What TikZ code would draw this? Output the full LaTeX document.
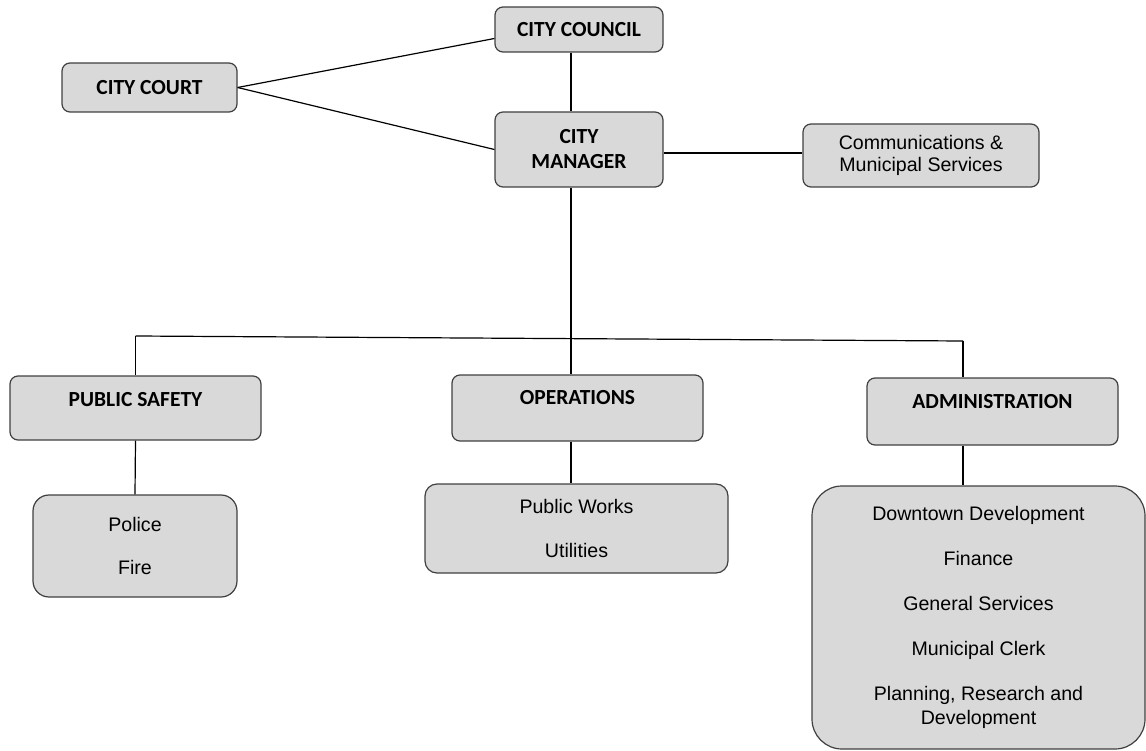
\documentclass[tikz,border=0pt]{standalone}
\usepackage{fontspec}
\setmainfont{Liberation Sans}
\newfontfamily\headfont{Carlito}
\definecolor{boxfill}{HTML}{D9D9D9}
\definecolor{boxline}{HTML}{404040}
\tikzset{
  headbox/.style={draw=boxline,fill=boxfill,line width=1.2pt,rounded corners=8pt,
    font=\headfont\bfseries\fontsize{21.5}{25}\selectfont,align=center,inner sep=0pt},
  listbox/.style={draw=boxline,fill=boxfill,line width=1.2pt,rounded corners=14pt,
    font=\fontsize{19.6}{22}\selectfont,align=center,inner sep=0pt},
}
\begin{document}
\begin{tikzpicture}[x=1pt,y=-1pt,line join=bevel]
\useasboundingbox (0,0) rectangle (1146,751);

 \node (node_council) at (579,29.5) [headbox,minimum width=168,minimum height=45] {CITY COUNCIL};
 \node (node_court) at (149.5,87.5) [headbox,minimum width=175,minimum height=49] {CITY COURT};
 \node (node_manager) at (579,149.5) [headbox,minimum width=168,minimum height=75] {CITY\\MANAGER};
 \node (node_comms) at (921,155.5) [listbox,rounded corners=8pt,minimum width=236,minimum height=63] {Communications \&\\Municipal Services};

 \node (node_safety) at (135.5,408) [headbox,minimum width=251,minimum height=64,text depth=18pt] {PUBLIC SAFETY};
 \node (node_ops) at (577.5,408) [headbox,minimum width=251,minimum height=66,text depth=22pt] {OPERATIONS};
 \node (node_admin) at (992.5,411.5) [headbox,minimum width=251,minimum height=67,text depth=21pt] {ADMINISTRATION};

 \node (node_police) at (135,546) [listbox,rounded corners=16pt,minimum width=204,minimum height=102] {Police\\[21pt]Fire};
 \node (node_works) at (576.5,528.5) [listbox,rounded corners=12pt,minimum width=303,minimum height=89] {Public Works\\[22pt]Utilities};
 \node (node_adminlist) at (978.5,617.5) [listbox,rounded corners=30pt,minimum width=333,minimum height=263,font=\fontsize{19.6}{24}\selectfont] {Downtown Development\\[21pt]Finance\\[21pt]General Services\\[21pt]Municipal Clerk\\[21pt]Planning, Research and\\Development};

 \coordinate (trunk) at (571,338);
 \coordinate (bus_l) at (135.5,336);
 \coordinate (bus_r) at (963,341);

  \draw [black,line width=1.2pt] (node_court.east) -- ([yshift=-9pt]node_council.west);
  \draw [black,line width=1.2pt] (node_court.east) -- (node_manager.west);
  \draw [black,line width=1.2pt] (node_council.south -| trunk) -- (node_manager.north -| trunk);
  \draw [black,line width=1.2pt] ([yshift=-3.5pt]node_manager.east) -- ([yshift=-3.5pt]node_manager.east -| node_comms.west);
  \draw [black,line width=1.2pt] (node_manager.south -| trunk) -- (trunk);
  \draw [black,line width=1.2pt] (bus_l) -- (bus_r);
  \draw [black,line width=1.2pt] (bus_l) -- (node_safety.north);
  \draw [black,line width=1.2pt] (trunk) -- (node_ops.north -| trunk);
  \draw [black,line width=1.2pt] (bus_r) -- (node_admin.north -| bus_r);
  \draw [black,line width=1.2pt] (node_safety.south) -- (node_police.north);
  \draw [black,line width=1.2pt] (node_ops.south -| trunk) -- (node_works.north -| trunk);
  \draw [black,line width=1.2pt] (node_admin.south -| bus_r) -- (node_adminlist.north -| bus_r);

\end{tikzpicture}
\end{document}
